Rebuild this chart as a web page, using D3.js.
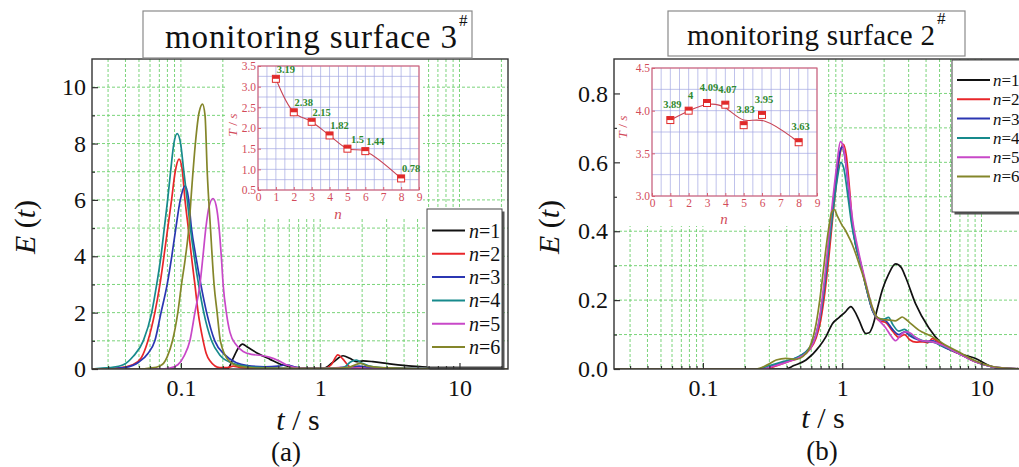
<!DOCTYPE html>
<html><head><meta charset="utf-8">
<script src="https://cdn.jsdelivr.net/npm/d3@7"></script>
<style>body{margin:0;background:#fff}svg{display:block}</style>
</head><body>
<svg id="chart" width="1019" height="467"></svg>
<script>
// ---------- DATA ----------
const tDomain = [0.023, 22.3];
const xMajor = [0.1, 1, 10];

const seriesNames = ["n=1","n=2","n=3","n=4","n=5","n=6"];
const seriesColors = ["#111111","#e8262a","#2b36b2","#178a8c","#c848c8","#84862a"];

// panel (a): [t (s), E(t)]
const a_n1 = [[0.023,0],[0.2,0],[0.218,0.02],[0.237,0.38],[0.258,0.74],[0.277,0.88],[0.3,0.78],[0.349,0.58],[0.434,0.35],[0.541,0.14],[0.675,0.04],[0.85,0.015],[1.056,0.02],[1.25,0.26],[1.46,0.47],[1.63,0.38],[1.82,0.26],[2.03,0.285],[2.39,0.26],[3.15,0.18],[4.13,0.12],[5.4,0.08],[9.4,0.02],[13,0.005],[22.3,0]];
const a_n2 = [[0.023,0],[0.035,0.03],[0.045,0.15],[0.052,0.4],[0.058,1.0],[0.065,2.0],[0.0707,3.0],[0.078,4.5],[0.0857,6.0],[0.091,7.0],[0.097,7.45],[0.102,7.1],[0.107,6.0],[0.113,5.0],[0.119,4.0],[0.126,3.0],[0.133,2.0],[0.1445,1.0],[0.152,0.55],[0.161,0.3],[0.19,0.05],[0.215,0.05],[0.237,0.1],[0.27,0.05],[0.35,0.02],[0.6,0.01],[1.06,0.01],[1.2,0.15],[1.34,0.5],[1.45,0.36],[1.63,0.08],[1.85,0.03],[3,0.015],[10,0.004],[22.3,0]];
const a_n3 = [[0.023,0],[0.03,0.01],[0.04,0.06],[0.05,0.25],[0.058,0.55],[0.065,1.0],[0.072,2.0],[0.0797,3.0],[0.086,4.0],[0.092,5.0],[0.099,6.0],[0.107,6.5],[0.113,6.1],[0.119,5.0],[0.128,4.0],[0.139,3.0],[0.153,2.0],[0.175,1.0],[0.207,0.5],[0.25,0.22],[0.3,0.12],[0.4,0.08],[0.5,0.1],[0.57,0.15],[0.65,0.08],[0.8,0.03],[1.2,0.02],[1.6,0.06],[1.9,0.1],[2.3,0.05],[4,0.02],[10,0.005],[22.3,0]];
const a_n4 = [[0.023,0],[0.026,0.02],[0.031,0.05],[0.0386,0.15],[0.0455,0.45],[0.0537,1.0],[0.0617,2.0],[0.067,3.0],[0.0719,4.0],[0.076,5.0],[0.0803,6.0],[0.0843,7.0],[0.089,8.0],[0.094,8.35],[0.0995,8.0],[0.105,7.0],[0.111,6.0],[0.117,5.0],[0.1246,4.0],[0.1339,3.0],[0.146,2.0],[0.166,1.0],[0.19,0.5],[0.237,0.2],[0.3125,0.08],[0.45,0.03],[0.7,0.02],[1.2,0.02],[1.5,0.08],[1.65,0.25],[1.82,0.32],[2.0,0.2],[2.4,0.08],[3.5,0.03],[8,0.01],[22.3,0]];
const a_n5 = [[0.023,0],[0.07,0],[0.083,0.03],[0.095,0.15],[0.105,0.45],[0.116,1.0],[0.126,2.0],[0.137,3.0],[0.144,4.0],[0.151,5.0],[0.16,5.8],[0.17,6.05],[0.179,5.8],[0.188,5.0],[0.195,4.0],[0.201,3.0],[0.212,2.0],[0.225,1.3],[0.25,0.85],[0.28,0.62],[0.32,0.52],[0.38,0.48],[0.43,0.42],[0.5,0.3],[0.57,0.15],[0.65,0.06],[0.8,0.02],[1.2,0.02],[1.4,0.06],[1.7,0.03],[3,0.01],[22.3,0]];
const a_n6 = [[0.023,0],[0.05,0],[0.06,0.03],[0.07,0.1],[0.075,0.2],[0.08,0.45],[0.087,1.0],[0.095,2.0],[0.101,3.0],[0.108,4.0],[0.114,5.0],[0.12,6.5],[0.127,8.0],[0.135,9.1],[0.143,9.4],[0.149,9.0],[0.1545,7.0],[0.163,5.0],[0.173,3.0],[0.182,2.0],[0.192,1.0],[0.22,0.3],[0.26,0.1],[0.35,0.03],[0.6,0.02],[1.2,0.02],[1.6,0.06],[1.95,0.2],[2.2,0.1],[3,0.04],[6,0.01],[22.3,0]];

// panel (b): [t (s), E(t)]
const b_n1 = [[0.023,0],[0.39,0],[0.45,0.01],[0.55,0.026],[0.685,0.065],[0.765,0.094],[0.853,0.132],[0.952,0.15],[1.05,0.165],[1.153,0.181],[1.24,0.165],[1.32,0.142],[1.477,0.103],[1.56,0.105],[1.646,0.122],[1.8,0.18],[1.94,0.229],[2.15,0.275],[2.42,0.305],[2.65,0.295],[2.85,0.267],[3.36,0.19],[4.18,0.12],[5.18,0.074],[7,0.045],[9,0.031],[11.8,0.007],[14,0],[22.3,0]];
const b_n2 = [[0.023,0],[0.28,0],[0.33,0.008],[0.4,0.02],[0.5,0.035],[0.58,0.055],[0.65,0.09],[0.7,0.14],[0.75,0.22],[0.8,0.32],[0.86,0.45],[0.92,0.56],[0.97,0.63],[1.02,0.652],[1.07,0.62],[1.12,0.54],[1.18,0.43],[1.25,0.36],[1.35,0.31],[1.48,0.24],[1.65,0.17],[1.85,0.14],[2.05,0.135],[2.3,0.11],[2.55,0.092],[2.8,0.1],[3.05,0.085],[3.4,0.078],[3.8,0.079],[4.1,0.076],[4.45,0.088],[4.9,0.078],[5.8,0.058],[6.85,0.045],[9,0.021],[11.8,0.007],[15.5,0.002],[22.3,0]];
const b_n3 = [[0.023,0],[0.27,0],[0.32,0.01],[0.4,0.022],[0.5,0.038],[0.58,0.06],[0.65,0.1],[0.7,0.16],[0.75,0.25],[0.8,0.36],[0.86,0.48],[0.92,0.58],[0.97,0.635],[1.0,0.645],[1.05,0.61],[1.1,0.54],[1.17,0.43],[1.25,0.36],[1.35,0.31],[1.48,0.24],[1.65,0.17],[1.85,0.145],[2.05,0.14],[2.3,0.115],[2.55,0.1],[2.8,0.108],[3.1,0.095],[3.5,0.085],[4.0,0.08],[4.5,0.082],[5.0,0.07],[6.85,0.045],[9,0.022],[11.8,0.007],[15.5,0.002],[22.3,0]];
const b_n4 = [[0.023,0],[0.25,0],[0.3,0.01],[0.38,0.022],[0.48,0.035],[0.58,0.06],[0.65,0.1],[0.7,0.16],[0.75,0.25],[0.8,0.35],[0.86,0.46],[0.92,0.55],[0.98,0.6],[1.03,0.58],[1.1,0.5],[1.17,0.42],[1.25,0.36],[1.35,0.31],[1.48,0.24],[1.65,0.17],[1.85,0.145],[2.0,0.145],[2.15,0.15],[2.3,0.13],[2.55,0.11],[2.8,0.115],[3.1,0.1],[3.5,0.088],[4,0.08],[4.5,0.078],[5,0.07],[6.85,0.046],[9,0.022],[11.8,0.007],[15.5,0.002],[22.3,0]];
const b_n5 = [[0.023,0],[0.27,0],[0.32,0.008],[0.4,0.02],[0.5,0.035],[0.58,0.055],[0.65,0.1],[0.7,0.17],[0.75,0.27],[0.8,0.38],[0.86,0.5],[0.92,0.6],[0.97,0.66],[1.01,0.65],[1.06,0.6],[1.12,0.52],[1.2,0.42],[1.28,0.36],[1.38,0.3],[1.5,0.24],[1.65,0.175],[1.85,0.14],[2.05,0.12],[2.25,0.095],[2.42,0.082],[2.65,0.1],[2.85,0.108],[3.1,0.104],[3.4,0.09],[3.75,0.082],[4.2,0.08],[4.8,0.075],[6.85,0.045],[9,0.021],[11.8,0.007],[15.5,0.002],[22.3,0]];
const b_n6 = [[0.023,0],[0.24,0],[0.29,0.012],[0.336,0.026],[0.396,0.031],[0.467,0.028],[0.52,0.036],[0.58,0.06],[0.649,0.13],[0.69,0.2],[0.723,0.267],[0.77,0.36],[0.808,0.42],[0.84,0.455],[0.877,0.463],[0.92,0.445],[0.99,0.42],[1.063,0.4],[1.125,0.38],[1.185,0.36],[1.25,0.335],[1.32,0.306],[1.4,0.275],[1.477,0.245],[1.56,0.21],[1.646,0.18],[1.75,0.155],[1.84,0.147],[2.0,0.143],[2.17,0.142],[2.4,0.14],[2.55,0.145],[2.7,0.151],[2.85,0.145],[3.01,0.137],[3.55,0.113],[4.42,0.094],[5.5,0.07],[6.85,0.05],[9,0.024],[11.8,0.008],[15.5,0.002],[22.3,0]];

const a_yTicks = [0,2,4,6,8,10];
const a_yMinor = [1,3,5,7,9];
const b_yTicks = [0,0.2,0.4,0.6,0.8];
const b_yMinor = [0.1,0.3,0.5,0.7];

// insets: T vs n
const insetA_n = [1,2,3,4,5,6,8];
const insetA_T = [3.19,2.38,2.15,1.82,1.5,1.44,0.78];
const insetB_n = [1,2,3,4,5,6,8];
const insetB_T = [3.89,4,4.09,4.07,3.83,3.95,3.63];
const inset_xTicks = [0,1,2,3,4,5,6,7,8,9];
const insetA_yTicks = [0.5,1.0,1.5,2.0,2.5,3.0,3.5];
const insetB_yTicks = [3.0,3.5,4.0,4.5];

// ---------- DRAWING ----------
const SERIF = "Liberation Serif";
const svg = d3.select('#chart');
const defs = svg.append('defs');
const isMajor = t => Math.abs(Math.log10(t) - Math.round(Math.log10(t))) < 1e-6;

function italicLabel(sel, parts){
  parts.forEach(p => sel.append('tspan').attr('font-style', p[1] ? 'italic' : 'normal').text(p[0]));
}

function drawPanel(P){
  const x = d3.scaleLog().domain(tDomain).range([P.L, P.R]);
  const y = d3.scaleLinear().domain(P.yDom).range([P.B, P.T]);
  const clip = 'clip-' + P.id;
  defs.append('clipPath').attr('id', clip).append('rect')
    .attr('x', P.L).attr('y', P.T).attr('width', P.R - P.L).attr('height', P.B - P.T);
  const g = svg.append('g');

  // grid
  const grid = g.append('g').attr('clip-path', `url(#${clip})`)
    .attr('stroke', '#6ccf6c').attr('stroke-width', 0.9).attr('stroke-dasharray', '3,2');
  grid.selectAll('line.v').data(x.ticks()).join('line').attr('class','v')
    .attr('x1', d => x(d)).attr('x2', d => x(d)).attr('y1', P.T).attr('y2', P.B);
  const yGrid = P.yTicks.concat(P.yMinor).filter(v => v > P.yDom[0]);
  grid.selectAll('line.h').data(yGrid).join('line').attr('class','h')
    .attr('x1', P.L).attr('x2', P.R).attr('y1', d => y(d)).attr('y2', d => y(d));

  // inset background
  g.append('rect').attr('x', P.bg[0]).attr('y', P.bg[1]).attr('width', P.bg[2]).attr('height', P.bg[3]).attr('fill', '#fff');

  // curves
  const line = d3.line().x(d => x(d[0])).y(d => y(d[1])).curve(d3.curveMonotoneX);
  g.append('g').attr('clip-path', `url(#${clip})`)
    .selectAll('path').data(P.series).join('path')
    .attr('d', line).attr('fill', 'none')
    .attr('stroke', (d, i) => seriesColors[i]).attr('stroke-width', 1.7);

  // legend
  const Lg = P.legend;
  g.append('rect').attr('x', Lg.x + 2.5).attr('y', Lg.y + 2.5).attr('width', Lg.w).attr('height', Lg.h).attr('fill', '#555');
  g.append('rect').attr('x', Lg.x).attr('y', Lg.y).attr('width', Lg.w).attr('height', Lg.h)
    .attr('fill', '#fff').attr('stroke', '#444').attr('stroke-width', 1);
  seriesNames.forEach((nm, i) => {
    const yy = Lg.y0 + i * Lg.dy;
    g.append('line').attr('x1', Lg.lx1).attr('x2', Lg.lx2).attr('y1', yy).attr('y2', yy)
      .attr('stroke', seriesColors[i]).attr('stroke-width', 2);
    const t = g.append('text').attr('x', Lg.tx).attr('y', yy).attr('dy', '0.35em')
      .attr('font-family', SERIF).attr('font-size', Lg.fs).attr('fill', '#111');
    italicLabel(t, [[nm.split('=')[0], true], ['=' + nm.split('=')[1], false]]);
  });

  // axes
  const axB = g.append('g').attr('transform', `translate(0,${P.B})`)
    .call(d3.axisBottom(x).tickValues(xMajor).tickFormat(d3.format('~g')).tickSizeInner(-6).tickSizeOuter(0).tickPadding(10));
  const axBm = g.append('g').attr('transform', `translate(0,${P.B})`)
    .call(d3.axisBottom(x).tickValues(x.ticks().filter(t => !isMajor(t))).tickFormat('').tickSizeInner(-3).tickSizeOuter(0));
  const axL = g.append('g').attr('transform', `translate(${P.L},0)`)
    .call(d3.axisLeft(y).tickValues(P.yTicks).tickFormat(P.yFmt).tickSizeInner(-6).tickSizeOuter(0).tickPadding(6));
  const axLm = g.append('g').attr('transform', `translate(${P.L},0)`)
    .call(d3.axisLeft(y).tickValues(P.yMinor).tickFormat('').tickSizeInner(-3).tickSizeOuter(0));
  [axB, axBm, axL, axLm].forEach(a => {
    a.select('.domain').remove();
    a.selectAll('line').attr('stroke', '#333').attr('stroke-width', 1.2);
    a.selectAll('text').attr('font-family', SERIF).attr('font-size', 24).attr('fill', '#111');
  });

  // frame
  g.append('rect').attr('x', P.L).attr('y', P.T).attr('width', P.R - P.L).attr('height', P.B - P.T)
    .attr('fill', 'none').attr('stroke', '#333').attr('stroke-width', 1.4);

  // axis titles
  const yt = g.append('text').attr('transform', `translate(${P.ylab[0]},${P.ylab[1]}) rotate(-90)`)
    .attr('text-anchor', 'middle').attr('dy', '0.35em').attr('font-family', SERIF).attr('font-size', 30).attr('fill', '#111');
  italicLabel(yt, [['E', true], [' (', false], ['t', true], [')', false]]);
  const xt = g.append('text').attr('x', P.xlab[0]).attr('y', P.xlab[1]).attr('text-anchor', 'middle')
    .attr('font-family', SERIF).attr('font-size', 30).attr('fill', '#111');
  italicLabel(xt, [['t', true], [' / s', false]]);
  g.append('text').attr('x', P.sub[0]).attr('y', P.sub[1]).attr('text-anchor', 'middle')
    .attr('font-family', SERIF).attr('font-size', 27).attr('fill', '#111').text(P.subText);

  // title box
  const Tb = P.title;
  g.append('rect').attr('x', Tb.x).attr('y', Tb.y).attr('width', Tb.w).attr('height', Tb.h)
    .attr('fill', '#fff').attr('stroke', '#8a8a8a').attr('stroke-width', 1.2);
  g.append('text').attr('x', Tb.tx).attr('y', Tb.ty).attr('font-family', SERIF).attr('font-size', Tb.fs)
    .attr('textLength', Tb.tw).attr('lengthAdjust', 'spacing').attr('fill', '#111').text(Tb.text);
  g.append('text').attr('x', Tb.tx + Tb.tw + 2).attr('y', Tb.sy).attr('font-family', SERIF)
    .attr('font-size', 17).attr('fill', '#111').text('#');
}

function drawInset(I){
  const x = d3.scaleLinear().domain([0, 9]).range([I.L, I.R]);
  const y = d3.scaleLinear().domain(I.yDom).range([I.B, I.T]);
  const g = svg.append('g');
  const red = '#d24b5a';
  const gg = g.append('g').attr('stroke', '#a4a8e2').attr('stroke-width', 0.7);
  gg.selectAll('line.v').data(d3.range(0, 9.001, 0.5)).join('line').attr('class','v')
    .attr('x1', d => x(d)).attr('x2', d => x(d)).attr('y1', I.T).attr('y2', I.B);
  gg.selectAll('line.h').data(d3.range(I.yDom[0], I.yDom[1] + 1e-9, 0.25)).join('line').attr('class','h')
    .attr('x1', I.L).attr('x2', I.R).attr('y1', d => y(d)).attr('y2', d => y(d));
  g.append('rect').attr('x', I.L).attr('y', I.T).attr('width', I.R - I.L).attr('height', I.B - I.T)
    .attr('fill', 'none').attr('stroke', '#d86070').attr('stroke-width', 1.1);
  const ax = g.append('g').attr('transform', `translate(0,${I.B})`)
    .call(d3.axisBottom(x).tickValues(inset_xTicks).tickFormat(d3.format('d')).tickSizeInner(-3).tickSizeOuter(0).tickPadding(3));
  const ay = g.append('g').attr('transform', `translate(${I.L},0)`)
    .call(d3.axisLeft(y).tickValues(I.yTicks).tickFormat(d3.format('.1f')).tickSizeInner(-3).tickSizeOuter(0).tickPadding(2));
  [ax, ay].forEach(a => {
    a.select('.domain').remove();
    a.selectAll('line').attr('stroke', '#d86070');
    a.selectAll('text').attr('font-family', SERIF).attr('font-size', 11.5).attr('fill', red);
  });
  const pts = I.n.map((n, i) => [n, I.T_[i]]);
  g.append('path').datum(pts).attr('d', d3.line().x(d => x(d[0])).y(d => y(d[1])).curve(I.curve))
    .attr('fill', 'none').attr('stroke', '#c84456').attr('stroke-width', 1.1);
  const m = g.selectAll('g.mk').data(pts).join('g').attr('class', 'mk')
    .attr('transform', d => `translate(${x(d[0])},${y(d[1])})`);
  m.append('rect').attr('x', -3.5).attr('y', -3.5).attr('width', 7).attr('height', 7).attr('fill', '#fff').attr('stroke', '#e02a2a').attr('stroke-width', 1);
  m.append('rect').attr('x', -3.5).attr('y', -3.5).attr('width', 7).attr('height', 3.5).attr('fill', '#e02a2a');
  g.selectAll('text.val').data(pts).join('text').attr('class', 'val')
    .attr('x', d => x(d[0]) + I.off[0]).attr('y', d => y(d[1]) + I.off[1])
    .attr('text-anchor', 'middle').attr('font-family', SERIF).attr('font-size', 10.5).attr('font-weight', 'bold')
    .attr('fill', '#2f8a2f').text(d => String(d[1]));
  const yt = g.append('text').attr('transform', `translate(${I.ylab[0]},${I.ylab[1]}) rotate(-90)`)
    .attr('text-anchor', 'middle').attr('dy', '0.35em').attr('font-family', SERIF).attr('font-size', 13.5).attr('fill', red);
  italicLabel(yt, [['T', true], [' / ', false], ['s', true]]);
  g.append('text').attr('x', I.xlab[0]).attr('y', I.xlab[1]).attr('text-anchor', 'middle').attr('dy', '0.35em')
    .attr('font-family', SERIF).attr('font-size', 15).attr('font-style', 'italic').attr('fill', red).text('n');
}

drawPanel({
  id: 'a', L: 92, R: 508, T: 59, B: 369, yDom: [0, 11],
  yTicks: a_yTicks, yMinor: a_yMinor, yFmt: d3.format('d'),
  series: [a_n1, a_n2, a_n3, a_n4, a_n5, a_n6],
  bg: [226, 59, 197, 159],
  legend: {x: 427, y: 209, w: 75, h: 158, y0: 230.5, dy: 23.3, lx1: 432, lx2: 465, tx: 469, fs: 20},
  ylab: [24, 227], xlab: [298, 430], sub: [286, 461], subText: '(a)',
  title: {x: 143, y: 11, w: 329, h: 47, tx: 165, ty: 48, sy: 26, tw: 292, fs: 33, text: 'monitoring surface 3'}
});
drawInset({
  L: 258, R: 419, T: 66, B: 190, yDom: [0.5, 3.5], yTicks: insetA_yTicks,
  n: insetA_n, T_: insetA_T, curve: d3.curveCatmullRom.alpha(0.5), off: [10, -6],
  ylab: [232, 125], xlab: [338, 214]
});
drawPanel({
  id: 'b', L: 614, R: 1030, T: 59, B: 369, yDom: [0, 0.9],
  yTicks: b_yTicks, yMinor: b_yMinor, yFmt: d3.format('.1f'),
  series: [b_n1, b_n2, b_n3, b_n4, b_n5, b_n6],
  bg: [614, 59, 214, 167],
  legend: {x: 952, y: 60, w: 100, h: 152, y0: 80, dy: 19.3, lx1: 957, lx2: 990, tx: 993, fs: 17},
  ylab: [548, 227], xlab: [823, 428], sub: [822, 460], subText: '(b)',
  title: {x: 668, y: 11, w: 297, h: 45, tx: 687, ty: 45, sy: 24, tw: 248, fs: 29, text: 'monitoring surface 2'}
});
drawInset({
  L: 652, R: 817, T: 68, B: 196, yDom: [3.0, 4.5], yTicks: insetB_yTicks,
  n: insetB_n, T_: insetB_T, curve: d3.curveBasis, off: [2, -12],
  ylab: [622, 127], xlab: [724, 219]
});
</script>
</body></html>
